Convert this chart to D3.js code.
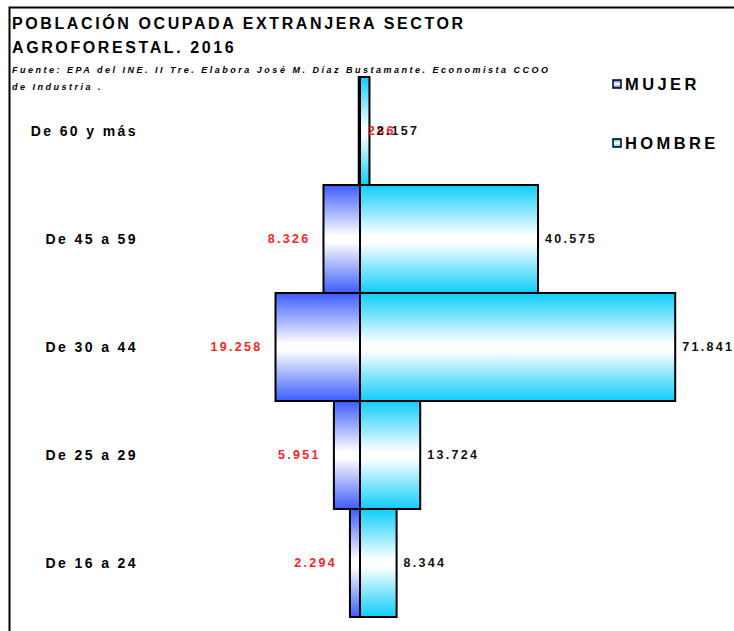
<!DOCTYPE html>
<html>
<head>
<meta charset="utf-8">
<script src="https://cdn.jsdelivr.net/npm/d3@7"></script>
<style>
  body { margin: 0; background: #fff; }
  svg { display: block; font-family: "Liberation Sans", Arial, sans-serif; }
</style>
</head>
<body>
<script>
// Pirámide de población ocupada extranjera, sector agroforestal 2016

var categories = ["De 60 y más", "De 45 a 59", "De 30 a 44", "De 25 a 29", "De 16 a 24"];
var mujer  = [286, 8326, 19258, 5951, 2294];
var hombre = [2157, 40575, 71841, 13724, 8344];
var seriesNames = ["MUJER", "HOMBRE"];

var width = 734, height = 631;

var es = d3.formatLocale({decimal: ",", thousands: ".", grouping: [3], currency: ["", " €"]});
var fmt = es.format(",d");

var data = categories.map(function(c, i) {
  return {cat: c, mujer: mujer[i], hombre: hombre[i]};
});

var svg = d3.select("body").append("svg")
    .attr("width", width)
    .attr("height", height);

// gradients
var defs = svg.append("defs");
function grad(id, edge) {
  var g = defs.append("linearGradient").attr("id", id)
      .attr("x1", 0).attr("y1", 0).attr("x2", 0).attr("y2", 1);
  g.append("stop").attr("offset", "0%").attr("stop-color", edge);
  g.append("stop").attr("offset", "47%").attr("stop-color", "#fff");
  g.append("stop").attr("offset", "53%").attr("stop-color", "#fff");
  g.append("stop").attr("offset", "100%").attr("stop-color", edge);
}
grad("gMujer", "#3d5cff");
grad("gHombre", "#0fcdfa");

// frame (left + top lines)
svg.append("path")
    .attr("d", "M9.5," + height + "V7.5H" + width)
    .attr("fill", "none")
    .attr("stroke", "#000")
    .attr("stroke-width", 2);

// title
var title = svg.append("text")
    .attr("font-weight", "bold")
    .attr("font-size", "16px")
    .attr("letter-spacing", "2.6px")
    .attr("fill", "#000");
title.append("tspan").attr("x", 12).attr("y", 29).text("POBLACIÓN OCUPADA EXTRANJERA SECTOR");
title.append("tspan").attr("x", 12).attr("y", 53).text("AGROFORESTAL. 2016");

var sub = svg.append("text")
    .attr("font-weight", "bold")
    .attr("font-style", "italic")
    .attr("font-size", "9px")
    .attr("letter-spacing", "2.5px")
    .attr("fill", "#000");
sub.append("tspan").attr("x", 12).attr("y", 73)
    .text("Fuente: EPA del INE. II Tre. Elabora José M. Díaz Bustamante. Economista CCOO");
sub.append("tspan").attr("x", 12).attr("y", 90).text("de Industria .");

// scales
var x = d3.scaleLinear().domain([-80000, 80000]).range([9, 711]);
var y = d3.scaleBand().domain(categories).range([77, 617]).padding(0);

// bars
svg.selectAll(".bar-mujer")
    .data(data)
    .enter()
  .append("rect")
    .attr("class", "bar-mujer")
    .attr("x", function(d) { return x(-d.mujer); })
    .attr("y", function(d) { return y(d.cat); })
    .attr("width", function(d) { return x(0) - x(-d.mujer); })
    .attr("height", y.bandwidth())
    .attr("fill", "url(#gMujer)")
    .attr("stroke", "#000")
    .attr("stroke-width", 2);

svg.selectAll(".bar-hombre")
    .data(data)
    .enter()
  .append("rect")
    .attr("class", "bar-hombre")
    .attr("x", x(0))
    .attr("y", function(d) { return y(d.cat); })
    .attr("width", function(d) { return x(d.hombre) - x(0); })
    .attr("height", y.bandwidth())
    .attr("fill", "url(#gHombre)")
    .attr("stroke", "#000")
    .attr("stroke-width", 2);

// category labels
svg.selectAll(".cat-label")
    .data(data)
    .enter()
  .append("text")
    .attr("class", "cat-label")
    .attr("x", 138)
    .attr("y", function(d) { return y(d.cat) + y.bandwidth() / 2; })
    .attr("dy", "0.35em")
    .attr("text-anchor", "end")
    .attr("font-size", "14px")
    .attr("font-weight", "bold")
    .attr("letter-spacing", "2.4px")
    .text(function(d) { return d.cat; });

// value labels
svg.selectAll(".lab-mujer")
    .data(data)
    .enter()
  .append("text")
    .attr("class", "lab-mujer")
    .attr("x", function(d) {
      var w = x(0) - x(-d.mujer);
      return w < 3 ? x(0) + 8 : x(-d.mujer) - 13;
    })
    .attr("y", function(d) { return y(d.cat) + y.bandwidth() / 2; })
    .attr("dy", "0.35em")
    .attr("text-anchor", function(d) { return (x(0) - x(-d.mujer)) < 3 ? "start" : "end"; })
    .attr("font-size", "12.5px")
    .attr("font-weight", "bold")
    .attr("letter-spacing", "2.3px")
    .attr("fill", "#ff1f1f")
    .text(function(d) { return fmt(d.mujer); });

svg.selectAll(".lab-hombre")
    .data(data)
    .enter()
  .append("text")
    .attr("class", "lab-hombre")
    .attr("x", function(d) { return x(d.hombre) + 7; })
    .attr("y", function(d) { return y(d.cat) + y.bandwidth() / 2; })
    .attr("dy", "0.35em")
    .attr("font-size", "12.5px")
    .attr("font-weight", "bold")
    .attr("letter-spacing", "2.3px")
    .attr("fill", "#111")
    .text(function(d) { return fmt(d.hombre); });

// legend
var legend = svg.selectAll(".legend")
    .data(seriesNames)
    .enter()
  .append("g")
    .attr("class", "legend")
    .attr("transform", function(d, i) { return "translate(613," + (80 + i * 59) + ")"; });

legend.append("rect")
    .attr("width", 8)
    .attr("height", 8)
    .attr("fill", function(d, i) { return i === 0 ? "url(#gMujer)" : "url(#gHombre)"; })
    .attr("stroke", "#000")
    .attr("stroke-width", 1.5);

legend.append("text")
    .attr("x", 12)
    .attr("y", 4)
    .attr("dy", "0.35em")
    .attr("font-size", "16.5px")
    .attr("font-weight", "bold")
    .attr("letter-spacing", "3.4px")
    .text(function(d) { return d; });
</script>
</body>
</html>
